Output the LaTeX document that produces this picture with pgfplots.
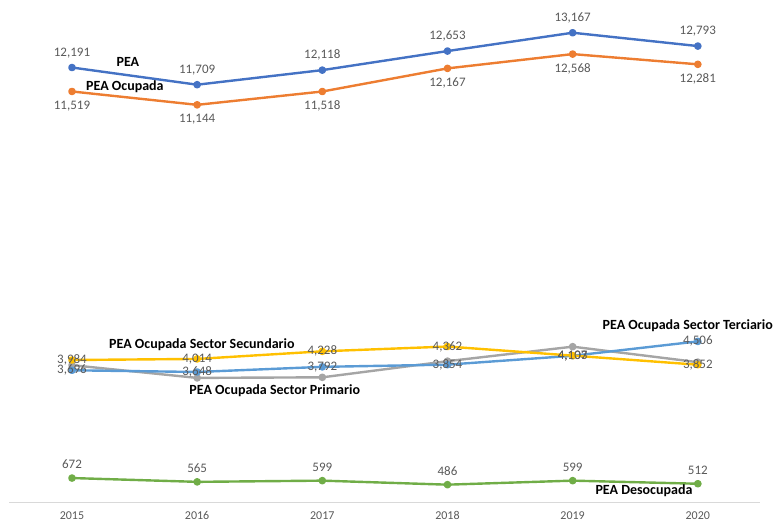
\documentclass[border=0pt]{standalone}
\usepackage{pgfplots}
\pgfplotsset{compat=1.18}
\usepackage{fontspec}
\setmainfont{Carlito}

\definecolor{cPEA}{HTML}{4472C4}
\definecolor{cOcup}{HTML}{ED7D31}
\definecolor{cSec}{HTML}{FFC000}
\definecolor{cTer}{HTML}{5B9BD5}
\definecolor{cPri}{HTML}{A5A5A5}
\definecolor{cDes}{HTML}{70AD47}
\definecolor{txtgray}{HTML}{595959}
\definecolor{axgray}{HTML}{D9D9D9}

\tikzset{lbl/.style={font=\bfseries\fontsize{14}{16}\selectfont, text=black}}

\begin{document}
\begin{tikzpicture}[x=1pt,y=1pt]
\useasboundingbox (0,0) rectangle (777,521);
\begin{axis}[
  at={(9.4pt,19pt)}, anchor=south west,
  scale only axis, width=751pt, height=502pt,
  xmin=-0.5, xmax=5.5, ymin=0, ymax=14086,
  axis x line*=bottom, axis y line=none,
  x axis line style={draw=axgray, line width=0.8pt, -},
  xtick={0,1,2,3,4,5},
  xticklabels={2015,2016,2017,2018,2019,2020},
  major tick length=0pt,
  xticklabel style={font=\fontsize{12}{14}\selectfont, text=txtgray,
    text height=8pt, text depth=1pt, yshift=-5.5pt},
  clip=false,
  every axis plot/.append style={line width=2.4pt, mark=*, mark size=2.6pt, line join=round},
  point meta=explicit symbolic,
  nodes near coords,
  every node near coord/.append style={font=\fontsize{13}{15}\selectfont, text=txtgray},
]
% economically active population
\addplot[color=cPEA, every node near coord/.append style={anchor=south, yshift=5pt}]
  coordinates {(0,12191)[12,191] (1,11709)[11,709] (2,12118)[12,118]
               (3,12653)[12,653] (4,13167)[13,167] (5,12793)[12,793]};
\addplot[color=cOcup, every node near coord/.append style={anchor=north, yshift=-5pt}]
  coordinates {(0,11519)[11,519] (1,11144)[11,144] (2,11518)[11,518]
               (3,12167)[12,167] (4,12568)[12,568] (5,12281)[12,281]};
% employed population by sector
\addplot[color=cPri]
  coordinates {(0,3839)[] (1,3482)[] (2,3498)[] (3,3951)[] (4,4358)[] (5,3923)[]};
\addplot[color=cTer, every node near coord/.append style={anchor=center}]
  coordinates {(0,3696)[3,696] (1,3648)[3,648] (2,3792)[3,792]
               (3,3854)[3,854] (4,4103)[4,103] (5,4506)[4,506]};
\addplot[color=cSec, every node near coord/.append style={anchor=center}]
  coordinates {(0,3984)[3,984] (1,4014)[4,014] (2,4228)[4,228]
               (3,4362)[4,362] (4,4107)[4,107] (5,3852)[3,852]};
% unemployed population
\addplot[color=cDes, every node near coord/.append style={anchor=south, yshift=5pt}]
  coordinates {(0,672)[672] (1,565)[565] (2,599)[599]
               (3,486)[486] (4,599)[599] (5,512)[512]};

% series names
\node[lbl] at (axis cs:0.447,12346) {PEA};
\node[lbl] at (axis cs:0.423,11645) {PEA Ocupada};
\node[lbl] at (axis cs:1.038,4405) {PEA Ocupada Sector Secundario};
\node[lbl] at (axis cs:1.62,3115) {PEA Ocupada Sector Primario};
\node[lbl] at (axis cs:4.92,4939) {PEA Ocupada Sector Terciario};
\node[lbl] at (axis cs:4.57,309) {PEA Desocupada};
\end{axis}
\end{tikzpicture}
\end{document}
